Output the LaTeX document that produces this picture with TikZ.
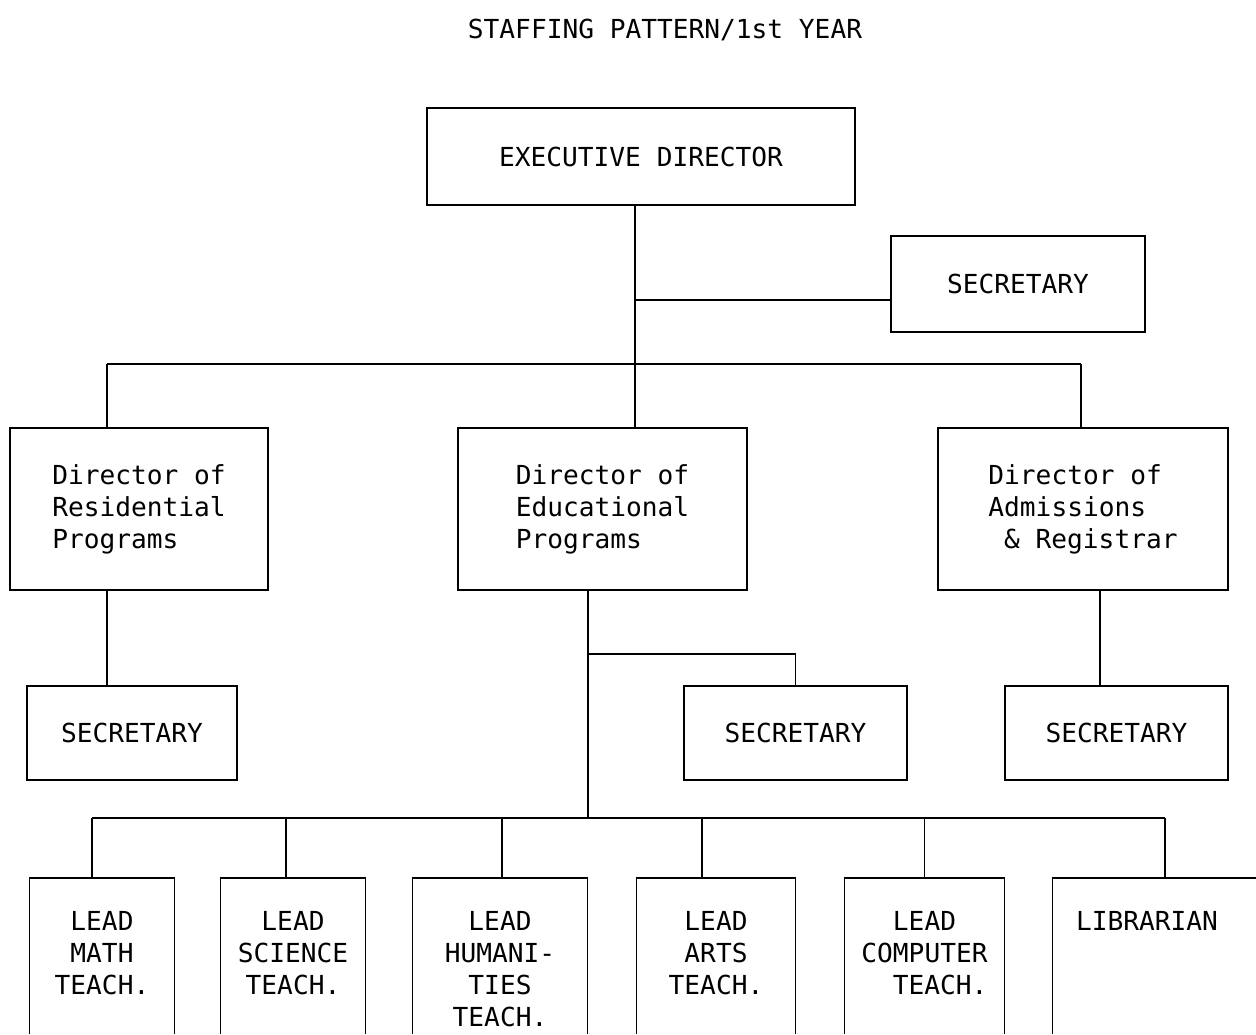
\documentclass[tikz,border=0pt]{standalone}
\usepackage{fontspec}
\setmonofont{DejaVu Sans Mono}
\usetikzlibrary{calc}
\tikzset{
  typefont/.style={font=\ttfamily\fontsize{14.9}{18.2}\selectfont},
  orgbox/.style={rectangle, draw=black, line width=0.9pt, inner sep=0pt, align=center, typefont},
  leadbox/.style={rectangle, draw=none, anchor=north, inner xsep=0pt, inner ysep=6.6mm, align=center, typefont},
  link/.style={draw=black, line width=0.9pt},
  frame/.style={draw=black, line width=0.9pt}
}
\begin{document}
\begin{tikzpicture}[x=0.2mm, y=-0.2mm]
  \useasboundingbox (0,0) rectangle (1256,1034);
  \node[typefont] (title) at (665,30) {STAFFING PATTERN/1st YEAR};

  % top level
  \node[orgbox, minimum width=85.6mm, minimum height=19.4mm] (exec) at (641,156.5) {EXECUTIVE DIRECTOR};
  \node[orgbox, minimum width=50.8mm, minimum height=19.2mm] (sec) at (1018,284) {SECRETARY};

  % directors
  \node[orgbox, align=left, minimum width=51.6mm, minimum height=32.4mm] (res) at (139,509) {Director of\\Residential\\Programs};
  \node[orgbox, align=left, minimum width=57.8mm, minimum height=32.4mm] (edu) at (602.5,509) {Director of\\Educational\\Programs};
  \node[orgbox, align=left, minimum width=58mm, minimum height=32.4mm] (adm) at (1083,509) {Director of\\Admissions\\\hspace*{0.6em}\& Registrar};

  % secretaries
  \node[orgbox, minimum width=42mm, minimum height=18.8mm] (ressec) at (132,733) {SECRETARY};
  \node[orgbox, minimum width=44.6mm, minimum height=18.8mm] (edusec) at (795.5,733) {SECRETARY};
  \node[orgbox, minimum width=44.6mm, minimum height=18.8mm] (admsec) at (1116.5,733) {SECRETARY};

  % lead staff (boxes run off the page)
  \node[leadbox, minimum width=28.8mm] (math) at (102,878) {LEAD\\MATH\\TEACH.};
  \node[leadbox, minimum width=28.8mm] (sci) at (293,878) {LEAD\\SCIENCE\\TEACH.};
  \node[leadbox, minimum width=34.8mm] (hum) at (500,878) {LEAD\\HUMANI-\\TIES\\TEACH.};
  \node[leadbox, minimum width=31.6mm] (arts) at (716,878) {LEAD\\ARTS\\TEACH.};
  \node[leadbox, minimum width=31.8mm] (comp) at (924.5,878) {LEAD\\COMPUTER\\\hspace*{1.2em}TEACH.};
  \node[leadbox, align=left, inner xsep=4.6mm, text width=35.6mm] (lib) at (1165,878) {LIBRARIAN};

  \coordinate (secjoin) at (635,300);
  \coordinate (topbus) at (635,364);
  \coordinate (resjoin) at (107,364);
  \coordinate (admjoin) at (1081,364);
  \coordinate (edujoin) at (588,654);
  \coordinate (lowbus) at (588,818);
  \coordinate (admdrop) at (1100,600);
  \coordinate (floor) at (0,1034);

  \draw[link] (exec.south -| topbus) -- (topbus);
  \draw[link] (secjoin) -- (sec.west |- secjoin);
  \draw[link] (resjoin) -- (admjoin);
  \draw[link] (resjoin) -- (res.north -| resjoin);
  \draw[link] (topbus) -- (edu.north -| topbus);
  \draw[link] (admjoin) -- (adm.north -| admjoin);

  \draw[link] (res.south -| resjoin) -- (ressec.north -| resjoin);
  \draw[link] (edu.south -| lowbus) -- (lowbus);
  \draw[link] (edujoin) -- (edusec.north |- edujoin) -- (edusec.north);
  \draw[link] (adm.south -| admdrop) -- (admsec.north -| admdrop);

  \draw[link] ([xshift=-2mm]math.north |- lowbus) -- (lib.north |- lowbus);
  \foreach \n/\d in {math/-2mm, sci/-1.4mm, hum/0.4mm, arts/-2.8mm, comp/0mm, lib/0mm} {
    \draw[frame] (\n.north west |- floor) -- (\n.north west) -- (\n.north east) -- (\n.north east |- floor);
    \draw[link] ([xshift=\d]\n.north) -- ([xshift=\d]\n.north |- lowbus);
  }
\end{tikzpicture}
\end{document}
